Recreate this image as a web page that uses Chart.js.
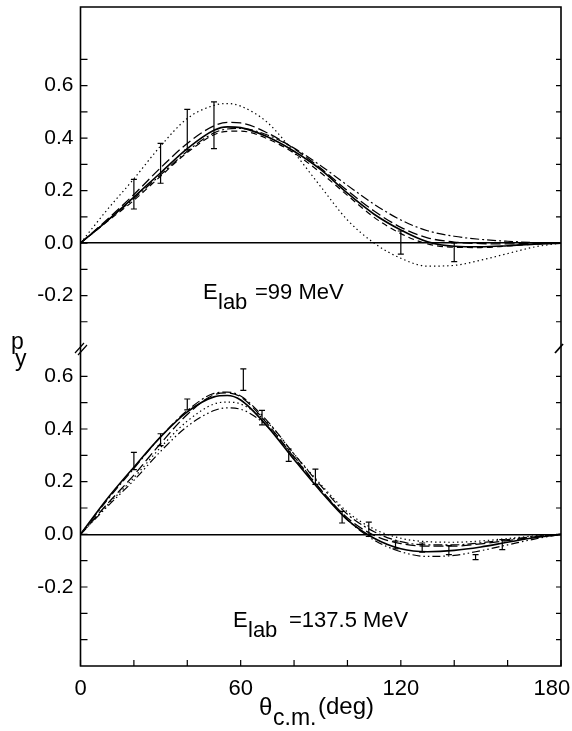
<!DOCTYPE html>
<html><head><meta charset="utf-8">
<script src="https://cdn.jsdelivr.net/npm/chart.js@4.4.1/dist/chart.umd.min.js"></script>
<style>
html,body{margin:0;padding:0;background:#fff;}
#wrap{position:relative;width:572px;height:731px;overflow:hidden;background:#fff;}
canvas{position:absolute;left:0;}
#c1{top:0;}
#c2{top:330px;}
</style></head><body>
<div id="wrap"><canvas id="c1" width="572" height="380"></canvas><canvas id="c2" width="572" height="401"></canvas></div>
<script>
// ---------- data ----------
const angles = [0,10,20,30,40,50,55,60,70,80,90,100,110,120,130,140,150,160,170,180];
const xTickLabels = [0,60,120,180];
const xTickMarks = [0,20,40,60,80,100,120,140,160,180];
const yTickLabels = [-0.2,0,0.2,0.4,0.6];
const topYTickMarks = [-0.3,-0.2,-0.1,0,0.1,0.2,0.3,0.4,0.5,0.6,0.7];
const bottomYTickMarks = [-0.4,-0.3,-0.2,-0.1,0,0.1,0.2,0.3,0.4,0.5,0.6];

// E_lab = 99 MeV (upper panel)
const e99_solid    = [0,0.085,0.175,0.268,0.36,0.43,0.443,0.44,0.405,0.35,0.28,0.19,0.11,0.05,0.005,-0.012,-0.014,-0.01,-0.004,0];
const e99_longDash = [0,0.09,0.185,0.287,0.38,0.447,0.46,0.458,0.42,0.36,0.285,0.2,0.122,0.06,0.02,0.004,-0.002,-0.003,-0.001,0];
const e99_dashDot  = [0,0.085,0.17,0.26,0.35,0.42,0.435,0.437,0.412,0.362,0.295,0.22,0.148,0.088,0.047,0.026,0.014,0.007,0.002,0];
const e99_dashed   = [0,0.082,0.163,0.255,0.345,0.413,0.426,0.427,0.398,0.343,0.268,0.182,0.098,0.036,-0.003,-0.016,-0.017,-0.011,-0.004,0];
const e99_dotted   = [0,0.127,0.245,0.37,0.475,0.525,0.532,0.522,0.46,0.345,0.215,0.088,0.0,-0.058,-0.088,-0.085,-0.065,-0.04,-0.015,0];
const e99_errAngle = [20,30,40,50,120,140];
const e99_errLow   = [0.13,0.228,0.355,0.36,-0.042,-0.071];
const e99_errHigh  = [0.243,0.38,0.51,0.538,0.046,0.001];

// E_lab = 137.5 MeV (lower panel)
const e137_solid      = [0,0.135,0.255,0.37,0.465,0.522,0.527,0.51,0.41,0.284,0.163,0.055,-0.015,-0.055,-0.066,-0.061,-0.048,-0.03,-0.013,0];
const e137_longDash   = [0,0.115,0.225,0.345,0.455,0.53,0.537,0.522,0.42,0.292,0.17,0.062,-0.004,-0.035,-0.045,-0.045,-0.036,-0.024,-0.01,0];
const e137_dashDot    = [0,0.13,0.25,0.37,0.47,0.535,0.54,0.525,0.43,0.305,0.185,0.076,0.01,-0.028,-0.04,-0.04,-0.032,-0.02,-0.008,0];
const e137_dotted     = [0,0.11,0.215,0.33,0.43,0.495,0.502,0.495,0.425,0.305,0.19,0.085,0.02,-0.015,-0.028,-0.03,-0.025,-0.016,-0.006,0];
const e137_dashDotDot = [0,0.105,0.205,0.315,0.41,0.47,0.48,0.475,0.41,0.295,0.17,0.055,-0.022,-0.066,-0.084,-0.08,-0.062,-0.04,-0.018,0];
const e137_errAngle = [20,30,40,61,68,78,88,98,108,118,128,138,148,158];
const e137_errLow   = [0.246,0.337,0.473,0.547,0.416,0.277,0.19,0.043,-0.008,-0.055,-0.068,-0.077,-0.096,-0.058];
const e137_errHigh  = [0.311,0.382,0.514,0.628,0.471,0.324,0.248,0.087,0.046,-0.026,-0.033,-0.043,-0.077,-0.02];

// ---------- styles ----------
const STY = {
  solid:      {w:1.6, dash:[]},
  longDash:   {w:1.3, dash:[10,4]},
  dashDot:    {w:1.2, dash:[9,3,2,3]},
  dashed:     {w:1.2, dash:[6,4]},
  dotted:     {w:1.2, dash:[1.4,3]},
  dashDotDot: {w:1.2, dash:[8,3,1.5,3,1.5,3]}
};
const TICKFONT = {family:'"Liberation Sans", Arial, sans-serif', size:21};
const XTICKFONT = {family:'"Liberation Sans", Arial, sans-serif', size:22};
const TXT = '"Liberation Sans", Arial, sans-serif';

function curve(vals, st){
  return {data: angles.map((a,i)=>({x:a,y:vals[i]})), borderColor:'#000', borderWidth:st.w,
    borderDash:st.dash, pointRadius:0, cubicInterpolationMode:'monotone', fill:false};
}
function errBars(ang, lo, hi){
  return ang.map((a,i)=>({data:[{x:a,y:lo[i]},{x:a,y:hi[i]}], borderColor:'#000', borderWidth:1.2,
    pointStyle:'line', pointRadius:3, pointBorderWidth:1.2, pointBorderColor:'#000', pointHoverRadius:0, tension:0, fill:false}));
}
const near = (a,b)=>Math.abs(a-b)<1e-6;
function yScale(min,max,marks){
  return {type:'linear', min, max,
    afterBuildTicks: s => { s.ticks = marks.map(v=>({value:v})); },
    afterFit: s => { s.width = 80.5; s.paddingTop = 0; s.paddingBottom = 0; },
    ticks:{autoSkip:false, color:'#000', font:TICKFONT, padding:7,
      callback: v => yTickLabels.some(t=>near(t,v)) ? (near(v,0)?'0.0':Number(v).toFixed(1)) : ''},
    grid:{drawTicks:false, lineWidth:1.4, color: c => (c.tick && near(c.tick.value,0)) ? '#000' : 'rgba(0,0,0,0)'},
    border:{display:false}
  };
}
function tickMarks(chart, ctx){
  const a = chart.chartArea, ys = chart.scales.y;
  ctx.lineWidth = 1.2;
  ctx.beginPath();
  ys.ticks.forEach(t=>{
    const y = ys.getPixelForValue(t.value);
    ctx.moveTo(a.left, y); ctx.lineTo(a.left+7, y);
    ctx.moveTo(a.right, y); ctx.lineTo(a.right-5, y);
  });
  ctx.stroke();
}
const baseOpts = {responsive:false, animation:false, events:[], devicePixelRatio:1,
  plugins:{legend:{display:false}, tooltip:{enabled:false}}};

// ---------- top chart ----------
const topPlugin = {id:'topDecor', afterDraw(chart){
  const ctx = chart.ctx, a = chart.chartArea;
  ctx.save(); ctx.strokeStyle='#000'; ctx.fillStyle='#000';
  tickMarks(chart, ctx);
  ctx.lineWidth = 1.6;
  ctx.beginPath();
  ctx.moveTo(a.left, 349); ctx.lineTo(a.left, a.top); ctx.lineTo(a.right, a.top); ctx.lineTo(a.right, 349);
  ctx.stroke();
  // break marks
  ctx.lineWidth = 1.2;
  ctx.beginPath();
  ctx.moveTo(75,353); ctx.lineTo(84,343);
  ctx.moveTo(78,355); ctx.lineTo(87,345);
  ctx.stroke();
  ctx.lineWidth = 1.8;
  ctx.beginPath(); ctx.moveTo(555,353); ctx.lineTo(563,344); ctx.stroke();
  // texts
  ctx.textBaseline='alphabetic'; ctx.textAlign='left';
  ctx.font = '22px '+TXT; ctx.fillText('E', 203, 299);
  ctx.font = '22px '+TXT; ctx.fillText('lab', 218, 309);
  ctx.font = '22px '+TXT; ctx.fillText('=99 MeV', 255, 299);
  ctx.font = '23px '+TXT; ctx.fillText('p', 11, 348.5);
  ctx.font = '23px '+TXT; ctx.fillText('y', 15, 366);
  ctx.restore();
}};
new Chart(document.getElementById('c1'), {
  type:'line',
  data:{datasets:[
    curve(e99_solid, STY.solid), curve(e99_longDash, STY.longDash), curve(e99_dashDot, STY.dashDot),
    curve(e99_dashed, STY.dashed), curve(e99_dotted, STY.dotted),
    ...errBars(e99_errAngle, e99_errLow, e99_errHigh)]},
  options:Object.assign({}, baseOpts, {
    layout:{padding:{top:7, bottom:32, left:0, right:11}},
    scales:{x:{type:'linear', min:0, max:180, display:false}, y:yScale(-0.4,0.9,topYTickMarks)}
  }),
  plugins:[topPlugin]
});

// ---------- bottom chart ----------
const OFF = 330;
const botPlugin = {id:'botDecor', afterDraw(chart){
  const ctx = chart.ctx, a = chart.chartArea, xs = chart.scales.x;
  ctx.save(); ctx.strokeStyle='#000'; ctx.fillStyle='#000';
  tickMarks(chart, ctx);
  ctx.lineWidth = 1.2;
  ctx.beginPath();
  xs.ticks.forEach(t=>{ const x = xs.getPixelForValue(t.value); ctx.moveTo(x, a.bottom); ctx.lineTo(x, a.bottom-6); });
  ctx.stroke();
  ctx.lineWidth = 1.6;
  ctx.beginPath();
  ctx.moveTo(a.left, 349-OFF); ctx.lineTo(a.left, a.bottom); ctx.lineTo(a.right, a.bottom); ctx.lineTo(a.right, 349-OFF);
  ctx.stroke();
  ctx.textBaseline='alphabetic'; ctx.textAlign='left';
  ctx.font = '22px '+TXT; ctx.fillText('E', 233, 627-OFF);
  ctx.font = '22px '+TXT; ctx.fillText('lab', 248, 637-OFF);
  ctx.font = '22px '+TXT; ctx.fillText('=137.5 MeV', 289, 627-OFF);
  ctx.font = '24px '+TXT; ctx.fillText('θ', 259, 715-OFF);
  ctx.font = '23px '+TXT; ctx.fillText('c.m.', 273, 725-OFF);
  ctx.font = '24px '+TXT; ctx.fillText('(deg)', 318, 714-OFF);
  ctx.restore();
}};
new Chart(document.getElementById('c2'), {
  type:'line',
  data:{datasets:[
    curve(e137_solid, STY.solid), curve(e137_longDash, STY.longDash), curve(e137_dashDot, STY.dashDot),
    curve(e137_dotted, STY.dotted), curve(e137_dashDotDot, STY.dashDotDot),
    ...errBars(e137_errAngle, e137_errLow, e137_errHigh)]},
  options:Object.assign({}, baseOpts, {
    layout:{padding:{top:20, bottom:0, left:0, right:11}},
    scales:{
      x:{type:'linear', min:0, max:180,
        afterBuildTicks: s => { s.ticks = xTickMarks.map(v=>({value:v})); },
        afterFit: s => { s.height = 65; s.paddingLeft = 0; s.paddingRight = 0; },
        ticks:{autoSkip:false, maxRotation:0, minRotation:0, color:'#000', font:XTICKFONT, padding:2,
          callback: v => xTickLabels.includes(v) ? (v===180 ? '180   ' : String(v)) : ''},
        grid:{display:false}, border:{display:false}},
      y:yScale(-0.5,0.7,bottomYTickMarks)
    }
  }),
  plugins:[botPlugin]
});
</script>
</body></html>
